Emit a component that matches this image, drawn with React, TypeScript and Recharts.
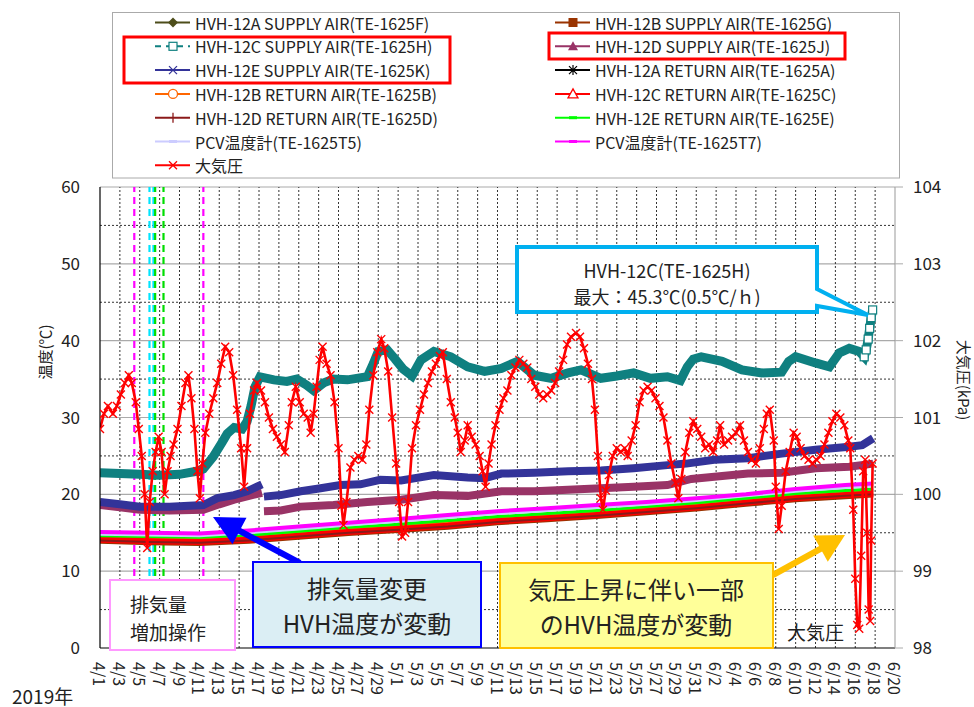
import React from 'react';
import { ComposedChart, Line, XAxis, YAxis, ReferenceLine } from 'recharts';

const FONT = '"Noto Sans CJK JP", "Noto Sans", sans-serif';

// ---- axes ----
const xTickDays = [0, 2, 4, 6, 8, 10, 12, 14, 16, 18, 20, 22, 24, 26, 28, 30, 32, 34, 36, 38, 40, 42, 44, 46, 48, 50, 52, 54, 56, 58, 60, 62, 64, 66, 68, 70, 72, 74, 76, 78, 80];
const xTickLabels = ['4/1', '4/3', '4/5', '4/7', '4/9', '4/11', '4/13', '4/15', '4/17', '4/19', '4/21', '4/23', '4/25', '4/27', '4/29', '5/1', '5/3', '5/5', '5/7', '5/9', '5/11', '5/13', '5/15', '5/17', '5/19', '5/21', '5/23', '5/25', '5/27', '5/29', '5/31', '6/2', '6/4', '6/6', '6/8', '6/10', '6/12', '6/14', '6/16', '6/18', '6/20'];
const tempTicks = [0, 10, 20, 30, 40, 50, 60];
const tempMinor = [5, 15, 25, 35, 45, 55];
const presTicks = [98, 99, 100, 101, 102, 103, 104];

// event markers (days since 4/1)
const magentaEvents = [3.45, 10.4];
const cyanEvents = [4.98, 5.38];
const greenEvents = [5.55, 6.39];

// ---- series ----
const tealDays = [0, 2, 4, 6, 8, 9.7, 10.4, 11.4, 12.3, 12.8, 13.5, 14.3, 14.8, 15.2, 15.6, 16.1, 17.5, 18.8, 19.8, 20.8, 21.5, 22.5, 23.5, 24.9, 26.9, 27.5, 28.0, 28.9, 29.7, 30.5, 31.4, 32.3, 33.6, 35.3, 37.0, 38.7, 40.4, 42.0, 43.7, 45.4, 47.1, 48.4, 50.4, 52.0, 53.7, 55.4, 57.1, 58.4, 59.1, 59.7, 60.5, 62.6, 64.6, 66.6, 68.6, 69.3, 70.0, 72.0, 73.4, 74.4, 75.4, 76.4, 76.9, 77.1, 77.3, 77.45, 77.6, 77.75];
const tealVals = [22.8, 22.7, 22.6, 22.5, 22.6, 23.0, 23.3, 24.9, 26.8, 27.9, 28.7, 28.5, 29.5, 31.5, 34.0, 35.3, 34.9, 34.7, 35.0, 34.2, 33.5, 34.5, 35.0, 34.9, 35.3, 37.0, 38.6, 38.8, 37.6, 36.3, 35.4, 37.5, 38.6, 37.9, 36.6, 36.0, 36.4, 37.3, 35.5, 35.1, 35.8, 36.2, 35.1, 35.4, 35.8, 35.1, 35.3, 34.8, 36.6, 37.6, 37.9, 37.3, 36.2, 35.8, 35.9, 37.3, 37.9, 37.1, 36.6, 38.4, 39.0, 38.6, 37.9, 38.8, 40.2, 41.6, 43.0, 44.0];

const blueDays = [0, 2, 4, 7, 10.4, 11.8, 13.5, 14.8, 15.8, 16.3, 16.4, 16.5, 18.2, 20.2, 22.2, 24.2, 26.2, 28.2, 30.3, 33.6, 37.0, 38.7, 40.4, 43.7, 47.1, 50.4, 53.7, 57.1, 59.0, 61.8, 65.2, 68.6, 72.0, 75.4, 76.7, 77.8];
const blueVals = [19.0, 18.7, 18.4, 18.4, 18.6, 19.5, 19.9, 20.4, 21.0, 21.3, null, 19.7, 19.9, 20.4, 20.8, 21.2, 21.3, 21.9, 21.8, 22.5, 22.2, 22.1, 22.7, 22.8, 23.0, 23.1, 23.4, 23.8, 24.0, 24.5, 24.7, 25.3, 25.8, 26.2, 26.4, 27.3];

const purpleDays = [0, 2, 4, 7, 10.4, 12, 13.5, 15, 16.3, 16.4, 16.5, 18.2, 20.2, 23.5, 26.9, 30.3, 33.6, 37.0, 40.4, 43.7, 47.1, 50.4, 53.7, 57.1, 59.5, 65.2, 68.6, 72.0, 75.4, 77.8];
const purpleVals = [18.6, 18.3, 18.0, 17.9, 18.0, 18.7, 19.3, 19.8, 20.2, null, 17.8, 17.9, 18.4, 18.6, 19.0, 19.3, 19.9, 19.8, 20.4, 20.4, 20.6, 20.8, 21.0, 21.2, 22.0, 22.7, 22.8, 23.4, 23.6, 24.0];

const clusterDays = [0, 5, 10, 15, 20, 25, 30, 35, 40, 45, 50, 55, 60, 65, 70, 75, 77.8];
const aSupplyVals = [14.0, 13.8, 13.7, 14.0, 14.5, 15.0, 15.4, 15.8, 16.4, 16.8, 17.2, 17.7, 18.2, 18.8, 19.4, 19.8, 20.0];
const bSupplyVals = [13.9, 13.7, 13.6, 13.9, 14.4, 14.9, 15.3, 15.7, 16.3, 16.7, 17.1, 17.6, 18.1, 18.7, 19.3, 19.7, 19.9];
const aReturnVals = [14.4, 14.3, 14.2, 14.5, 15.0, 15.5, 15.9, 16.3, 16.9, 17.3, 17.7, 18.2, 18.7, 19.3, 19.9, 20.3, 20.5];
const bReturnVals = [14.3, 14.2, 14.1, 14.4, 14.9, 15.4, 15.8, 16.2, 16.8, 17.2, 17.6, 18.1, 18.6, 19.2, 19.8, 20.2, 20.4];
const cReturnVals = [14.1, 13.9, 13.8, 14.1, 14.6, 15.1, 15.5, 15.9, 16.5, 16.9, 17.3, 17.8, 18.3, 18.9, 19.5, 19.9, 20.1];
const dReturnVals = [14.0, 13.8, 13.7, 14.0, 14.5, 15.0, 15.4, 15.8, 16.4, 16.8, 17.2, 17.7, 18.2, 18.8, 19.4, 19.8, 20.0];
const eReturnVals = [14.6, 14.5, 14.4, 14.7, 15.2, 15.7, 16.1, 16.6, 17.1, 17.5, 17.9, 18.4, 18.9, 19.5, 20.1, 20.5, 20.7];
const t5Vals = [14.8, 14.7, 14.6, 15.0, 15.5, 16.0, 16.5, 17.0, 17.5, 17.9, 18.3, 18.7, 19.2, 19.8, 20.4, 20.9, 21.1];
const t7Vals = [15.1, 15.0, 14.9, 15.3, 15.8, 16.3, 16.8, 17.3, 17.8, 18.2, 18.6, 19.0, 19.5, 20.0, 20.7, 21.2, 21.4];

const presDays = [0.0, 0.4, 0.8, 1.3, 1.7, 2.1, 2.5, 2.9, 3.2, 3.6, 3.9, 4.2, 4.5, 4.75, 5.0, 5.3, 5.6, 5.9, 6.2, 6.5, 6.8, 7.1, 7.4, 7.8, 8.2, 8.6, 8.9, 9.2, 9.5, 9.8, 10.05, 10.3, 10.6, 11.0, 11.4, 11.8, 12.2, 12.6, 13.0, 13.4, 13.8, 14.2, 14.5, 14.8, 15.1, 15.5, 15.8, 16.2, 16.6, 17.0, 17.4, 17.8, 18.2, 18.6, 19.0, 19.3, 19.7, 20.1, 20.5, 20.9, 21.2, 21.5, 21.8, 22.1, 22.4, 22.8, 23.2, 23.6, 24.0, 24.3, 24.5, 24.8, 25.2, 25.6, 26.0, 26.4, 26.8, 27.1, 27.5, 27.9, 28.3, 28.6, 29.0, 29.4, 29.8, 30.1, 30.4, 30.7, 31.0, 31.4, 31.8, 32.2, 32.6, 33.0, 33.4, 33.8, 34.2, 34.5, 34.9, 35.3, 35.7, 36.0, 36.3, 36.7, 37.0, 37.4, 37.8, 38.2, 38.5, 38.8, 39.1, 39.4, 39.8, 40.2, 40.6, 41.0, 41.4, 41.8, 42.2, 42.6, 43.0, 43.4, 43.8, 44.2, 44.6, 45.0, 45.4, 45.8, 46.2, 46.6, 47.0, 47.4, 47.9, 48.3, 48.7, 49.1, 49.5, 49.8, 50.1, 50.4, 50.6, 50.9, 51.2, 51.6, 52.0, 52.4, 52.8, 53.1, 53.5, 53.9, 54.3, 54.7, 55.1, 55.5, 55.9, 56.3, 56.7, 57.1, 57.5, 57.9, 58.2, 58.5, 58.9, 59.3, 59.7, 60.1, 60.5, 60.9, 61.3, 61.7, 62.1, 62.4, 62.8, 63.2, 63.6, 64.0, 64.4, 64.8, 65.2, 65.6, 66.0, 66.4, 66.8, 67.1, 67.4, 67.8, 68.0, 68.3, 68.6, 69.0, 69.4, 69.8, 70.1, 70.5, 70.9, 71.3, 71.7, 72.1, 72.5, 72.9, 73.3, 73.7, 74.1, 74.5, 74.9, 75.3, 75.5, 75.8, 76.0, 76.2, 76.4, 76.6, 76.8, 77.0, 77.2, 77.35, 77.5, 77.6, 77.75];
const presVals = [100.85, 101.05, 101.15, 101.05, 101.15, 101.30, 101.45, 101.55, 101.45, 101.20, 100.85, 100.50, 100.00, 99.30, 99.90, 100.30, 100.55, 100.75, 100.55, 100.00, 100.30, 100.50, 100.65, 100.85, 101.15, 101.45, 101.55, 101.25, 100.85, 100.30, 99.95, 100.40, 100.80, 101.05, 101.25, 101.45, 101.70, 101.92, 101.85, 101.55, 101.10, 100.60, 100.10, 100.60, 101.05, 101.35, 101.45, 101.35, 101.20, 101.00, 100.85, 100.75, 100.65, 100.55, 100.90, 101.20, 101.40, 101.20, 101.05, 101.00, 100.80, 101.05, 101.40, 101.75, 101.92, 101.70, 101.55, 101.20, 100.60, 99.85, 99.60, 99.90, 100.35, 100.45, 100.50, 100.45, 100.65, 101.10, 101.55, 101.85, 102.02, 101.90, 101.60, 101.00, 100.40, 99.90, 99.45, 99.50, 99.90, 100.60, 100.90, 101.10, 101.30, 101.45, 101.60, 101.70, 101.80, 101.85, 101.50, 101.20, 101.00, 100.80, 100.55, 100.70, 100.90, 100.75, 100.65, 100.50, 100.30, 100.10, 100.40, 100.65, 100.90, 101.10, 101.25, 101.35, 101.55, 101.65, 101.75, 101.70, 101.65, 101.50, 101.40, 101.30, 101.25, 101.30, 101.35, 101.45, 101.60, 101.75, 101.95, 102.05, 102.10, 102.05, 101.90, 101.70, 101.50, 101.10, 100.50, 99.95, 99.80, 100.05, 100.25, 100.50, 100.60, 100.55, 100.60, 100.50, 100.70, 100.90, 101.20, 101.35, 101.40, 101.35, 101.25, 101.15, 101.00, 100.70, 100.40, 100.15, 99.95, 100.20, 100.55, 100.80, 100.95, 100.85, 100.75, 100.60, 100.65, 100.55, 100.70, 100.90, 100.65, 100.70, 100.75, 100.80, 100.90, 100.70, 100.55, 100.45, 100.40, 100.60, 100.85, 101.05, 101.10, 100.70, 100.10, 99.55, 99.85, 100.30, 100.55, 100.80, 100.75, 100.60, 100.50, 100.45, 100.40, 100.45, 100.50, 100.65, 100.80, 100.95, 101.05, 101.00, 100.90, 100.70, 100.60, 99.80, 98.90, 98.30, 98.25, 99.20, 100.30, 100.45, 99.50, 98.50, 98.35, 99.40, 100.40];

const pts = (days: number[], vals: (number | null)[]) => days.map((d, i) => ({ d, v: vals[i] }));

// ---- legend ----
type Mk = 'diamond' | 'hollowSquare' | 'x' | 'hollowCircle' | 'plus' | 'dash' | 'square' | 'triangle' | 'star' | 'hollowTriangle';
const legendLeft: [string, string, Mk, boolean][] = [
  ['HVH-12A SUPPLY AIR(TE-1625F)', '#4d4d1a', 'diamond', false],
  ['HVH-12C SUPPLY AIR(TE-1625H)', '#0f8080', 'hollowSquare', true],
  ['HVH-12E SUPPLY AIR(TE-1625K)', '#333399', 'x', false],
  ['HVH-12B RETURN AIR(TE-1625B)', '#ff6600', 'hollowCircle', false],
  ['HVH-12D RETURN AIR(TE-1625D)', '#8b1a1a', 'plus', false],
  ['PCV温度計(TE-1625T5)', '#ccccff', 'dash', false],
  ['大気圧', '#ff0000', 'x', false],
];
const legendRight: [string, string, Mk, boolean][] = [
  ['HVH-12B SUPPLY AIR(TE-1625G)', '#993300', 'square', false],
  ['HVH-12D SUPPLY AIR(TE-1625J)', '#993366', 'triangle', false],
  ['HVH-12A RETURN AIR(TE-1625A)', '#000000', 'star', false],
  ['HVH-12C RETURN AIR(TE-1625C)', '#ff0000', 'hollowTriangle', false],
  ['HVH-12E RETURN AIR(TE-1625E)', '#00ff00', 'dash', false],
  ['PCV温度計(TE-1625T7)', '#ff00ff', 'dash', false],
];

function Marker({ x, y, c, t }: { x: number; y: number; c: string; t: Mk }) {
  switch (t) {
    case 'diamond':
      return <polygon points={`${x},${y - 5} ${x + 5},${y} ${x},${y + 5} ${x - 5},${y}`} fill={c} />;
    case 'hollowSquare':
      return <rect x={x - 4} y={y - 4} width={8} height={8} fill="#fff" stroke={c} strokeWidth={1.2} />;
    case 'square':
      return <rect x={x - 4.5} y={y - 4.5} width={9} height={9} fill={c} />;
    case 'x':
      return <path d={`M${x - 4},${y - 4}L${x + 4},${y + 4}M${x - 4},${y + 4}L${x + 4},${y - 4}`} stroke={c} strokeWidth={1.3} />;
    case 'hollowCircle':
      return <circle cx={x} cy={y} r={4.5} fill="#fff" stroke={c} strokeWidth={1.3} />;
    case 'plus':
      return <path d={`M${x},${y - 5}L${x},${y + 5}`} stroke={c} strokeWidth={1.3} />;
    case 'dash':
      return <rect x={x - 4} y={y - 1.5} width={8} height={3} fill={c} />;
    case 'triangle':
      return <polygon points={`${x},${y - 5} ${x + 5},${y + 4} ${x - 5},${y + 4}`} fill={c} />;
    case 'hollowTriangle':
      return <polygon points={`${x},${y - 5} ${x + 5},${y + 4} ${x - 5},${y + 4}`} fill="#fff" stroke={c} strokeWidth={1.3} />;
    case 'star':
      return <path d={`M${x - 4},${y - 4}L${x + 4},${y + 4}M${x - 4},${y + 4}L${x + 4},${y - 4}M${x},${y - 5}L${x},${y + 5}`} stroke={c} strokeWidth={1.2} />;
  }
  return null;
}

function LegendCol({ items, x0, y0 }: { items: [string, string, Mk, boolean][]; x0: number; y0: number }) {
  return (
    <g>
      {items.map(([label, c, mk, dashed], i) => {
        const y = y0 + i * 23.8;
        return (
          <g key={label}>
            <line x1={x0} x2={x0 + 35} y1={y} y2={y} stroke={c} strokeWidth={2} strokeDasharray={dashed ? '6 5' : undefined} />
            <Marker x={x0 + 18} y={y} c={c} t={mk} />
            <text x={x0 + 40} y={y} dominantBaseline="central" fontSize={16} fill="#222" fontFamily={FONT}>{label}</text>
          </g>
        );
      })}
    </g>
  );
}

const XTick = (props: any) => {
  const { x, y, payload } = props;
  const idx = xTickDays.indexOf(payload.value);
  return (
    <text x={x} y={y} transform={`rotate(90 ${x} ${y})`} textAnchor="start" dominantBaseline="central" fontSize={16} fill="#222" fontFamily={FONT}>
      {xTickLabels[idx]}
    </text>
  );
};

const XDot = (props: any) => {
  const { cx, cy, index } = props;
  if (cx == null || cy == null) return <g key={index} />;
  return <path key={index} d={`M${cx - 4},${cy - 4}L${cx + 4},${cy + 4}M${cx - 4},${cy + 4}L${cx + 4},${cy - 4}`} stroke="#ff0000" strokeWidth={1.4} />;
};

const SqDot = (props: any) => {
  const { cx, cy, index, payload } = props;
  if (cx == null || cy == null || payload.d < 76.9) return <g key={index} />;
  return <rect key={index} x={cx - 4} y={cy - 4} width={8} height={8} fill="#fff" stroke="#0f8080" strokeWidth={1.2} />;
};

export default function App() {
  const tempLine = (key: string, data: any[], color: string, w: number) => (
    <Line key={key} data={data} dataKey="v" yAxisId="t" type="linear" stroke={color} strokeWidth={w} dot={false} isAnimationActive={false} connectNulls={false} />
  );
  return (
    <div style={{ position: 'absolute', left: 0, top: 0, width: 974, height: 707, background: '#fff', fontFamily: FONT }}>
      <ComposedChart width={974} height={707} margin={{ top: 187, right: 0, bottom: 0, left: 0 }}>
        <XAxis dataKey="d" type="number" domain={[0, 80]} ticks={xTickDays} interval={0} allowDataOverflow
          tickLine={false} tickSize={0} tickMargin={14} axisLine={{ stroke: '#000', strokeWidth: 1.2 }} tick={<XTick />} height={59} />
        <YAxis yAxisId="t" domain={[0, 60]} ticks={tempTicks} interval={0} width={100} tickLine={false} tickSize={0} tickMargin={20}
          axisLine={{ stroke: '#000', strokeWidth: 1.2 }} tick={{ fontSize: 17, fill: '#222', fontFamily: FONT }} allowDataOverflow />
        <YAxis yAxisId="p" orientation="right" domain={[98, 104]} ticks={presTicks} interval={0} width={79} tickSize={8} tickMargin={10}
          tickLine={{ stroke: '#aaa' }} axisLine={{ stroke: '#999' }} tick={{ fontSize: 17, fill: '#222', fontFamily: FONT, textAnchor: 'start' }} allowDataOverflow />

        {tempMinor.map((v) => (
          <ReferenceLine key={'mn' + v} yAxisId="t" y={v} stroke="#333" strokeDasharray="2 2" strokeWidth={1} />
        ))}
        {tempTicks.slice(1).map((v) => (
          <ReferenceLine key={'mj' + v} yAxisId="t" y={v} stroke="#aaa" strokeWidth={1.2} />
        ))}
        {xTickDays.slice(1, -1).map((d) => (
          <ReferenceLine key={'vx' + d} yAxisId="t" x={d} stroke="#333" strokeDasharray="2 2" strokeWidth={1} />
        ))}
        {magentaEvents.map((d) => (
          <ReferenceLine key={'me' + d} yAxisId="t" x={d} stroke="#ff00ff" strokeDasharray="7 5" strokeWidth={2.2} />
        ))}
        {cyanEvents.map((d) => (
          <ReferenceLine key={'ce' + d} yAxisId="t" x={d} stroke="#00e5ff" strokeDasharray="7 5" strokeWidth={2.2} />
        ))}
        {greenEvents.map((d) => (
          <ReferenceLine key={'ge' + d} yAxisId="t" x={d} stroke="#00dd00" strokeDasharray="7 5" strokeWidth={2.2} />
        ))}

        {tempLine('aS', pts(clusterDays, aSupplyVals), '#4d4d1a', 4)}
        {tempLine('bS', pts(clusterDays, bSupplyVals), '#993300', 5)}
        <Line data={pts(tealDays, tealVals)} dataKey="v" yAxisId="t" type="linear" stroke="#0f8080" strokeWidth={9} dot={<SqDot />} isAnimationActive={false} />
        {tempLine('dS', pts(purpleDays, purpleVals), '#993366', 8)}
        {tempLine('eS', pts(blueDays, blueVals), '#333399', 8)}
        {tempLine('aR', pts(clusterDays, aReturnVals), '#000000', 3)}
        {tempLine('bR', pts(clusterDays, bReturnVals), '#ff6600', 4)}
        {tempLine('cR', pts(clusterDays, cReturnVals), '#ff0000', 6)}
        {tempLine('dR', pts(clusterDays, dReturnVals), '#8b1a1a', 2)}
        {tempLine('eR', pts(clusterDays, eReturnVals), '#00ff00', 3)}
        {tempLine('t5', pts(clusterDays, t5Vals), '#ccccff', 3)}
        {tempLine('t7', pts(clusterDays, t7Vals), '#ff00ff', 4)}
        <Line data={pts(presDays, presVals)} dataKey="v" yAxisId="p" type="linear" stroke="#ff0000" strokeWidth={2.6} dot={<XDot />} isAnimationActive={false} />
      </ComposedChart>

      <svg width={974} height={707} style={{ position: 'absolute', left: 0, top: 0, pointerEvents: 'none' }} fontFamily={FONT}>
        {/* legend */}
        <rect x={112.5} y={12.5} width={787} height={165.5} fill="#fff" stroke="#aaa" strokeWidth={1} />
        <LegendCol items={legendLeft} x0={155} y0={22.5} />
        <LegendCol items={legendRight} x0={555} y0={22.5} />
        <rect x={124} y={37} width={326} height={46} fill="none" stroke="#ff0000" strokeWidth={3} />
        <rect x={549} y={33} width={296} height={26} fill="none" stroke="#ff0000" strokeWidth={3} />

        {/* axis titles */}
        <text x={44} y={352} transform="rotate(-90 44 352)" textAnchor="middle" dominantBaseline="central" fontSize={15} fill="#222">温度(℃)</text>
        <text x={964} y={380} transform="rotate(90 964 380)" textAnchor="middle" dominantBaseline="central" fontSize={15} fill="#222">大気圧(kPa)</text>
        <text x={12} y={695} dominantBaseline="central" fontSize={19} fill="#222">2019年</text>

        {/* callout for max */}
        <path d="M517,247 H817 V289 L868,315 L817,306 V312 H517 Z" fill="#fff" stroke="#00b0f0" strokeWidth={4} strokeLinejoin="miter" />
        <text x={667} y={270} textAnchor="middle" dominantBaseline="central" fontSize={18} fill="#222">HVH-12C(TE-1625H)</text>
        <text x={667} y={296} textAnchor="middle" dominantBaseline="central" fontSize={18} fill="#222">最大：45.3℃(0.5℃/ｈ)</text>

        {/* pink box */}
        <rect x={110} y={580} width={125} height={70} fill="#fff" stroke="#ff99ff" strokeWidth={2} />
        <text x={130} y={603} dominantBaseline="central" fontSize={19} fill="#222">排気量</text>
        <text x={130} y={631} dominantBaseline="central" fontSize={19} fill="#222">増加操作</text>

        {/* blue box + arrow */}
        <line x1={300} y1={563} x2={238} y2={530} stroke="#0000ff" strokeWidth={6} />
        <polygon points="213,517 246.5,517.7 232.5,544.3" fill="#0000ff" />
        <rect x={253} y={562} width={228} height={85} fill="#dbeef4" stroke="#0000ff" strokeWidth={2} />
        <text x={367} y={587} textAnchor="middle" dominantBaseline="central" fontSize={24} fill="#222">排気量変更</text>
        <text x={367} y={622} textAnchor="middle" dominantBaseline="central" fontSize={24} fill="#222">HVH温度が変動</text>

        {/* yellow box + arrow */}
        <line x1={773} y1={575} x2={822} y2={548} stroke="#ffc000" strokeWidth={6} />
        <polygon points="845,535 827.8,561.7 813.2,535.5" fill="#ffc000" />
        <rect x={500} y={563} width={273} height={85} fill="#ffff99" stroke="#ffc000" strokeWidth={2} />
        <text x={636} y={588} textAnchor="middle" dominantBaseline="central" fontSize={24} fill="#222">気圧上昇に伴い一部</text>
        <text x={636} y={623} textAnchor="middle" dominantBaseline="central" fontSize={24} fill="#222">のHVH温度が変動</text>

        <text x={787} y={631} dominantBaseline="central" fontSize={19} fill="#222">大気圧</text>
      </svg>
    </div>
  );
}
